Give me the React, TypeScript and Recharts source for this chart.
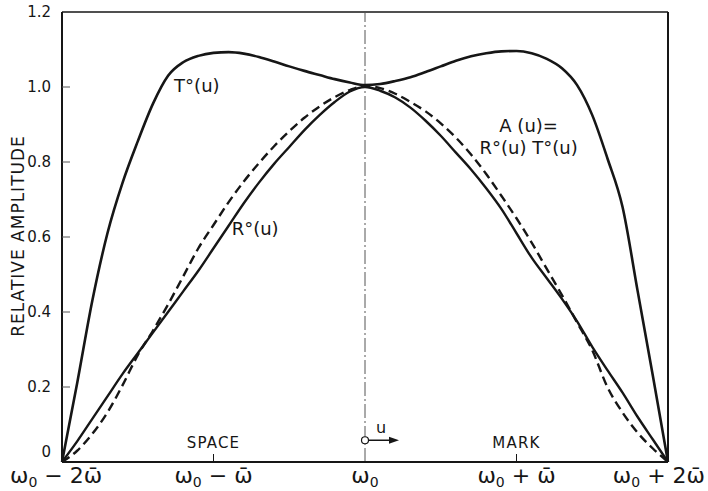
import React from 'react';
import { LineChart, Line, XAxis, YAxis, ReferenceLine, ReferenceDot } from 'recharts';

// offset u from ω0, in units of ω̄
const uValues = [
  -2.0, -1.9, -1.8, -1.7, -1.6, -1.5, -1.4, -1.3, -1.2, -1.1,
  -1.0, -0.9, -0.8, -0.7, -0.6, -0.5, -0.4, -0.3, -0.2, -0.1,
  0.0, 0.1, 0.2, 0.3, 0.4, 0.5, 0.6, 0.7, 0.8, 0.9,
  1.0, 1.1, 1.2, 1.3, 1.4, 1.5, 1.6, 1.7, 1.8, 1.9, 2.0,
];

// T°(u)
const tValues = [
  0, 0.21, 0.43, 0.61, 0.745, 0.855, 0.955, 1.03, 1.066, 1.083,
  1.091, 1.093, 1.089, 1.08, 1.068, 1.055, 1.043, 1.032, 1.021, 1.012,
  1.005, 1.008, 1.016, 1.026, 1.04, 1.055, 1.07, 1.082, 1.09, 1.095,
  1.096, 1.09, 1.075, 1.05, 1.005, 0.925, 0.81, 0.68, 0.455, 0.23, 0,
];

// R°(u)
const rValues = [
  0, 0.055, 0.115, 0.175, 0.235, 0.29, 0.345, 0.4, 0.455, 0.51,
  0.57, 0.63, 0.69, 0.745, 0.795, 0.84, 0.885, 0.925, 0.96, 0.988,
  1.0, 0.99, 0.972, 0.945, 0.91, 0.87, 0.825, 0.78, 0.73, 0.675,
  0.61, 0.545, 0.49, 0.435, 0.375, 0.307, 0.245, 0.185, 0.12, 0.06, 0,
];

// A(u) = R°(u) T°(u)
const aValues = [
  0, 0.03, 0.075, 0.132, 0.205, 0.285, 0.35, 0.42, 0.495, 0.57,
  0.632, 0.693, 0.748, 0.797, 0.842, 0.882, 0.918, 0.948, 0.973, 0.992,
  1.003, 0.997, 0.982, 0.96, 0.935, 0.903, 0.865, 0.82, 0.768, 0.71,
  0.65, 0.585, 0.515, 0.445, 0.372, 0.298, 0.2, 0.132, 0.078, 0.036, 0,
];

const xTicks = [-2, -1, 0, 1, 2];
const xTickSuffix = [' − 2ω̄', ' − ω̄', '', ' + ω̄', ' + 2ω̄'];
const xRegionLabels = ['', 'SPACE', '', 'MARK', ''];
const yTicks = [0, 0.2, 0.4, 0.6, 0.8, 1.0, 1.2];

const data = uValues.map((u, i) => ({ u, T: tValues[i], R: rValues[i], A: aValues[i] }));

const INK = '#161616';
const FONT = '"DejaVu Sans", "Liberation Sans", sans-serif';

const XTick = (props: any) => {
  const { x, y, payload } = props;
  const i = xTicks.indexOf(payload.value);
  const inner = payload.value === -1 || payload.value === 1;
  // keep the outermost labels inside the picture
  let anchor = 'middle';
  let tx = x;
  if (i === 0) { anchor = 'start'; tx = 10; }
  if (i === xTicks.length - 1) { anchor = 'end'; tx = 705; }
  return (
    <g>
      {inner && <line x1={x} x2={x} y1={y - 8} y2={y} stroke={INK} strokeWidth={1} />}
      {xRegionLabels[i] && (
        <text x={x} y={y - 14} textAnchor="middle" fontSize={15} letterSpacing={1.2} fill={INK} fontFamily={FONT}>
          {xRegionLabels[i]}
        </text>
      )}
      <text x={tx} y={y + 21} textAnchor={anchor} fontSize={22} fill={INK} fontFamily={FONT}>
        ω<tspan fontSize={14} dy={4}>0</tspan>
        <tspan dy={-4}>{xTickSuffix[i]}</tspan>
      </text>
    </g>
  );
};

const YTick = (props: any) => {
  const { x, y, payload } = props;
  const v = payload.value;
  const inner = v > 0 && v < 1.2;
  return (
    <g>
      {inner && <line x1={x} x2={x + 8} y1={y} y2={y} stroke="#555" strokeWidth={1} />}
      <text x={x - 11} y={v === 0 ? y - 5 : y + 5} textAnchor="end" fontSize={15} fill={INK} fontFamily={FONT}>
        {v === 0 ? '0' : v.toFixed(1)}
      </text>
    </g>
  );
};

const YLabel = () => {
  const cx = 18;
  const cy = 236;
  return (
    <text
      x={cx}
      y={cy}
      transform={`rotate(-90 ${cx} ${cy})`}
      textAnchor="middle"
      dominantBaseline="central"
      fontSize={17}
      letterSpacing={1}
      fill={INK}
      fontFamily={FONT}
    >
      RELATIVE AMPLITUDE
    </text>
  );
};

const textShape = (lines: string[], anchor: string) => (p: any) => (
  <text x={p.cx} y={p.cy} textAnchor={anchor} fontSize={18} fill={INK} fontFamily={FONT}>
    {lines.map((l, k) => (
      <tspan key={k} x={p.cx} dy={k === 0 ? 0 : 22}>
        {l}
      </tspan>
    ))}
  </text>
);

const OriginMarker = (p: any) => (
  <g>
    <line x1={p.cx} x2={p.cx + 28} y1={p.cy} y2={p.cy} stroke={INK} strokeWidth={1.5} />
    <path d={`M${p.cx + 34},${p.cy} L${p.cx + 24},${p.cy - 3.5} L${p.cx + 24},${p.cy + 3.5} Z`} fill={INK} />
    <circle cx={p.cx} cy={p.cy} r={3.5} fill="#fff" stroke={INK} strokeWidth={1.2} />
    <text x={p.cx + 16} y={p.cy - 7} textAnchor="middle" fontSize={16} fill={INK} fontFamily={FONT}>
      u
    </text>
  </g>
);

export default function App() {
  return (
    <div style={{ position: 'absolute', left: 0, top: 0, background: '#fff' }}>
      <LineChart width={708} height={491} data={data} margin={{ top: 12, right: 40, left: 2, bottom: 0 }}>
        <XAxis
          dataKey="u"
          type="number"
          domain={[-2, 2]}
          ticks={xTicks}
          height={29}
          tickLine={false}
          tickSize={0}
          tickMargin={0}
          axisLine={{ stroke: INK, strokeWidth: 2.2 }}
          tick={<XTick />}
          interval={0}
        />
        <YAxis
          type="number"
          domain={[0, 1.2]}
          ticks={yTicks}
          width={60}
          tickLine={false}
          tickSize={0}
          tickMargin={0}
          axisLine={{ stroke: INK, strokeWidth: 2 }}
          tick={<YTick />}
          interval={0}
          label={<YLabel />}
        />
        <ReferenceLine y={1.2} stroke={INK} strokeWidth={1.5} />
        <ReferenceLine x={2} stroke={INK} strokeWidth={2} />
        <ReferenceLine x={0} stroke="#555" strokeWidth={1} strokeDasharray="14 3 2 3" />
        <Line type="monotone" dataKey="T" stroke={INK} strokeWidth={2.6} dot={false} isAnimationActive={false} />
        <Line type="monotone" dataKey="R" stroke={INK} strokeWidth={2.4} dot={false} isAnimationActive={false} />
        <Line
          type="monotone"
          dataKey="A"
          stroke={INK}
          strokeWidth={2.4}
          strokeDasharray="9 5"
          dot={false}
          isAnimationActive={false}
        />
        <ReferenceDot x={-1.26} y={0.987} r={0} shape={textShape(['T°(u)'], 'start')} />
        <ReferenceDot x={-0.88} y={0.605} r={0} shape={textShape(['R°(u)'], 'start')} />
        <ReferenceDot x={1.08} y={0.88} r={0} shape={textShape(['A (u)=', 'R°(u) T°(u)'], 'middle')} />
        <ReferenceDot x={0} y={0.058} r={3.5} shape={<OriginMarker />} />
      </LineChart>
    </div>
  );
}
